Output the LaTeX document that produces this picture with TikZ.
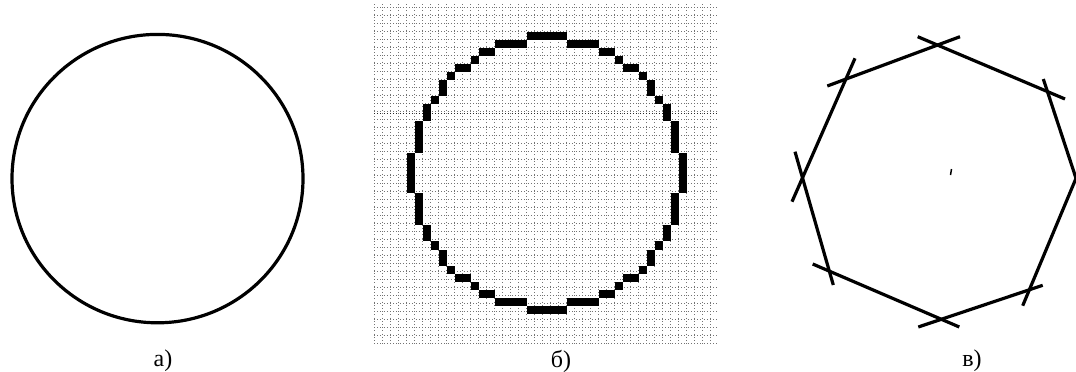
\documentclass[tikz,border=0pt]{standalone}
\usepackage{fontspec}
\setmainfont{Liberation Serif}
\tikzset{
  caption/.style={font=\fontsize{24}{24}\selectfont, inner sep=0pt},
  outline/.style={line width=3.2pt, black},
  side/.style={line width=3.2pt, black},
  fineline/.style={black!55, line width=0.7pt, dash pattern=on 1pt off 2.2pt},
  cell/.style={fill=black}
}
\begin{document}
\begin{tikzpicture}[x=1pt,y=-1pt]
	  \useasboundingbox (0,0) rectangle (1076,372);

	  % a) smooth circle
	  \draw[outline] (157.5,178.6) ellipse (145.5 and 144.2);
	  \node[caption] (capa) at (163,361) {а)};

	  % b) grid
	  \foreach \gx in {0,8,...,336} {
	    \draw[fineline] (374.7+\gx,4) -- (374.7+\gx,344);
	  }
	  \foreach \gy in {0,8,...,336} {
	    \draw[fineline] (374,7.7+\gy) -- (718,7.7+\gy);
	  }
	  \draw[fineline, black!85] (374,113) -- (718,113);

	  % b) pixels: first column / last column / row, mirrored about row 20
	  \foreach \ca/\cb/\rw in {19/23/3, 15/18/4, 24/27/4, 13/14/5, 28/29/5, 12/12/6, 30/30/6,
	      10/11/7, 31/32/7, 9/9/8, 33/33/8, 8/8/9, 34/34/9, 8/8/10, 34/34/10, 7/7/11, 35/35/11,
	      6/6/12, 36/36/12, 6/6/13, 36/36/13, 5/5/14, 37/37/14, 5/5/15, 37/37/15, 5/5/16, 37/37/16,
	      5/5/17, 37/37/17} {
	    \fill[cell] (374.7+8*\ca,7.7+8.06*\rw) rectangle (382.7+8*\cb,15.76+8.06*\rw);
	    \fill[cell] (374.7+8*\ca,7.7+8.06*40-8.06*\rw) rectangle (382.7+8*\cb,15.76+8.06*40-8.06*\rw);
	  }
	  \fill[cell] (406.7,152.8) rectangle (414.7,193.1);
	  \fill[cell] (678.7,152.8) rectangle (686.7,193.1);
	  \node[caption] (capb) at (561,361) {б)};

	  % c) polygon, each side runs past its corners
	  \coordinate (s1a) at (827.3,86);
	  \coordinate (s1b) at (960,36.7);
	  \coordinate (s2a) at (917.7,36.7);
	  \coordinate (s2b) at (1065,99);
	  \coordinate (s3a) at (1043.3,79);
	  \coordinate (s3b) at (1076,178.3);
	  \coordinate (s4a) at (1076,178.3);
	  \coordinate (s4b) at (1022.7,305.7);
	  \coordinate (s5a) at (1042.7,285.3);
	  \coordinate (s5b) at (918.3,327);
	  \coordinate (s6a) at (959.3,327);
	  \coordinate (s6b) at (812.7,264);
	  \coordinate (s7a) at (833.3,285);
	  \coordinate (s7b) at (795,151.7);
	  \coordinate (s8a) at (792,201.7);
	  \coordinate (s8b) at (855,58.3);
	  \foreach \s in {1,...,8} {
	    \draw[side] (s\s a) -- (s\s b);
	  }
	  % speck in the middle
	  \coordinate (spa) at (950.5,175);
	  \coordinate (spb) at (951.5,169);
	  \draw[line width=1.5pt] (spa) -- (spb);
	  \node[caption] (capc) at (972,361) {в)};
	\end{tikzpicture}
\end{document}
